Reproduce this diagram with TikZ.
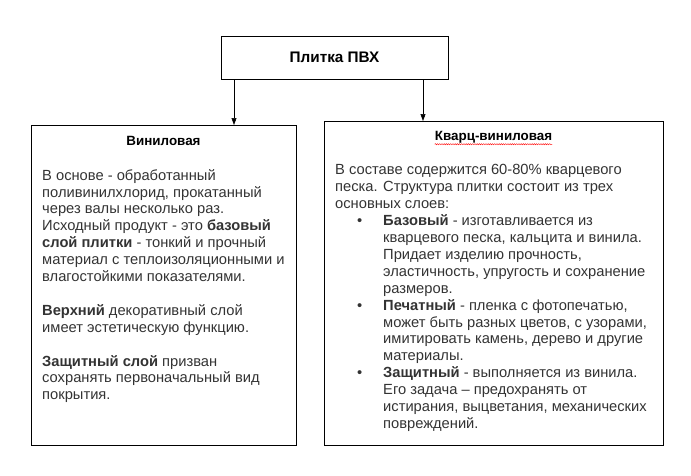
\documentclass[tikz,border=0pt]{standalone}
\usepackage{fontspec}
\setmainfont{Liberation Sans}
\usetikzlibrary{arrows.meta}
\usetikzlibrary{decorations.pathmorphing}
\newcommand{\bodysize}{\fontsize{14.7}{16.9}\selectfont}
\newcommand{\bul}{\hspace*{22pt}\makebox[26pt][l]{\textbullet}}
\newcommand{\ind}{\hspace*{48pt}}
\tikzstyle{box}=[draw, line width=1pt, inner sep=0, outer sep=0]
\tikzstyle{title}=[inner sep=0, font=\bfseries\fontsize{13.4}{15}\selectfont]
\tikzstyle{body}=[anchor=north west, align=left, inner sep=0, text=black!80, font=\bodysize]
\tikzstyle{link}=[-{Triangle[width=5pt,length=7pt]}, line width=0.6pt]
\tikzstyle{spell}=[red, line width=0.4pt, decorate, decoration={snake, amplitude=0.6pt, segment length=2.2pt}]

\begin{document}
\begin{tikzpicture}[x=1pt, y=-1pt]
        \useasboundingbox (0, 0) rectangle (691, 475);
        % boxes
        \node[box, minimum width=227pt, minimum height=43pt] (pvc) at (334.5, 57.5) {};
        \node[box, minimum width=265pt, minimum height=320pt] (vinyl) at (163.5, 285) {};
        \node[box, minimum width=339pt, minimum height=324pt] (quartz) at (493.5, 283) {};
        % titles
        \node[title, font=\bfseries\fontsize{15.3}{17}\selectfont] (pvct) at (pvc) {Плитка ПВХ};
        \node[title] (vinylt) at (163.5, 141) {Виниловая};
        \node[title] (quartzt) at (493.5, 137) {Кварц-виниловая};
        \draw[spell] ([yshift=-1pt]quartzt.south west) -- ([yshift=-1pt]quartzt.south east);
        % arrows
        \coordinate (a1) at (234, 0);
        \coordinate (a2) at (423, 0);
        \draw[link] (a1 |- pvc.south) -- (a1 |- vinyl.north);
        \draw[link] (a2 |- pvc.south) -- (a2 |- quartz.north);
        % texts
        \node[body] (vinylb) at (42, 169) {В основе - обработанный\\
            поливинилхлорид, прокатанный\\
            через валы несколько раз.\\
            Исходный продукт - это \textbf{базовый}\\
            \textbf{слой плитки} - тонкий и прочный\\
            материал с теплоизоляционными и\\
            влагостойкими показателями.\\[16.9pt]
            \textbf{Верхний} декоративный слой\\
            имеет эстетическую функцию.\\[16.9pt]
            \textbf{Защитный слой} призван\\
            сохранять первоначальный вид\\
            покрытия.};
        \node[body] (quartzb) at (335, 164.5) {В составе содержится 60-80\% кварцевого\\
            песка. Структура плитки состоит из трех\\
            основных слоев:\\
            \bul\textbf{Базовый} - изготавливается из\\
            \ind кварцевого песка, кальцита и винила.\\
            \ind Придает изделию прочность,\\
            \ind эластичность, упругость и сохранение\\
            \ind размеров.\\
            \bul\textbf{Печатный} - пленка с фотопечатью,\\
            \ind может быть разных цветов, с узорами,\\
            \ind имитировать камень, дерево и другие\\
            \ind материалы.\\
            \bul\textbf{Защитный} - выполняется из винила.\\
            \ind Его задача – предохранять от\\
            \ind истирания, выцветания, механических\\
            \ind повреждений.};
    \end{tikzpicture}
\end{document}
